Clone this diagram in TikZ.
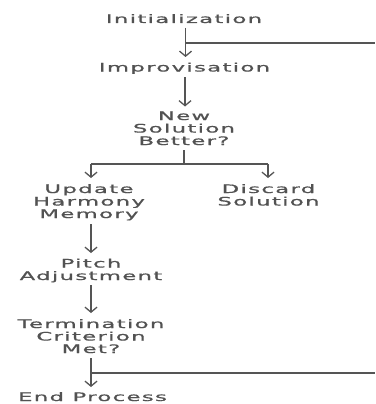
\documentclass[tikz,border=0pt]{standalone}
\usepackage{fontspec}
\usetikzlibrary{arrows.meta,calc}
\newfontfamily\labfont[LetterSpace=6,FakeBold=0.8]{DejaVu Sans}
\newcommand\wtxt[1]{\scalebox{1.94}[1]{#1}}
\definecolor{txtgray}{HTML}{525252}
\definecolor{lngray}{HTML}{555555}
\tikzset{
  lab/.style={font=\labfont\fontsize{11.7}{12.5}\selectfont, text=txtgray, inner sep=0pt, align=center, anchor=base},
  conn/.style={draw=lngray, line width=1.3pt},
  arr/.style={conn, -{Straight Barb[length=5pt,width=12pt,line width=1.3pt]}}
}
\begin{document}
\begin{tikzpicture}[x=1pt,y=-1pt]
\useasboundingbox (0,0) rectangle (375,404);
\node[lab] (init) at (184,23) {\wtxt{Initialization}};
\node[lab] (impr) at (184.5,71.5) {\wtxt{Improvisation}};
\node[lab] (better) at (184,145) {\wtxt{New}\\\wtxt{Solution}\\\wtxt{Better?}};
\node[lab] (memory) at (89,218) {\wtxt{Update}\\\wtxt{Harmony}\\\wtxt{Memory}};
\node[lab] (discard) at (268.5,205.5) {\wtxt{Discard}\\\wtxt{Solution}};
\node[lab] (pitch) at (91,280) {\wtxt{Pitch}\\\wtxt{Adjustment}};
\node[lab] (term) at (91,353) {\wtxt{Termination}\\\wtxt{Criterion}\\\wtxt{Met?}};
\node[lab] (end) at (92.5,401) {\wtxt{End Process}};
\coordinate (edge) at (375,0);
\coordinate (colL) at (91,0);
\coordinate (colR) at (268,0);
% init -> impr and loop line
\draw[arr] ($(init.base)+(1.5,5)$) -- ($(impr.base)+(1,-14.5)$);
\coordinate (loopA) at ($(init.base)+(1.5,20)$);
\draw[conn] (loopA) -- (loopA -| edge);
% impr -> decision
\draw[arr] ($(impr.base)+(0.5,5.5)$) -- ($(better.base)+(1,-38.5)$);
% branch
\coordinate (br) at ($(better.base)+(0,19)$);
\draw[conn] ($(better.base)+(0,5)$) -- (br);
\draw[conn] (br -| colL) -- (br -| colR);
\draw[arr] (br -| colL) -- ($(memory.base -| colL)+(0,-40)$);
\draw[arr] (br -| colR) -- ($(discard.base -| colR)+(0,-27.5)$);
% column
\draw[arr] ($(memory.base -| colL)+(0,6)$) -- ($(pitch.base -| colL)+(0,-27)$);
\draw[arr] ($(pitch.base -| colL)+(0,5)$) -- ($(term.base -| colL)+(0,-40)$);
\draw[arr] ($(term.base -| colL)+(0,5)$) -- ($(end.base -| colL)+(0,-14)$);
\coordinate (loopB) at ($(term.base -| colL)+(0,20)$);
\draw[conn] (loopB) -- (loopB -| edge);
\end{tikzpicture}
\end{document}
